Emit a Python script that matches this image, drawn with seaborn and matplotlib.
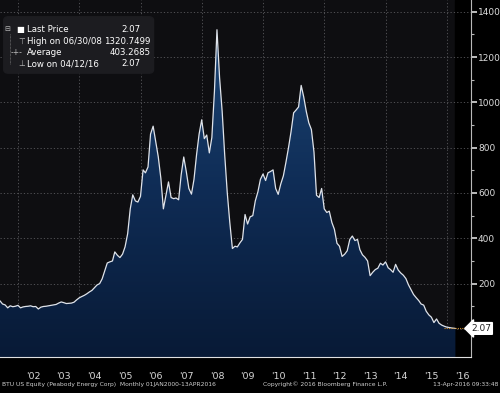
import numpy as np
import pandas as pd
import matplotlib
matplotlib.use('Agg')
import matplotlib.pyplot as plt
import matplotlib.dates as mdates
from matplotlib.patches import FancyBboxPatch
import seaborn as sns

################################################################################
# data: BTU monthly close, month-end points May 2001 .. Mar 2016, then 12-Apr-2016

price_2001 = [124, 110, 106, 93, 102, 98, 100, 104]
price_2002 = [93, 97, 99, 100, 102, 98, 99, 88, 96, 99, 100, 102]
price_2003 = [104, 106, 108, 114, 119, 116, 112, 113, 114, 118, 128, 137]
price_2004 = [143, 148, 155, 163, 170, 182, 194, 200, 221, 256, 291, 296]
price_2005 = [300, 340, 325, 315, 330, 362, 420, 530, 592, 565, 560, 585]
price_2006 = [702, 689, 715, 860, 895, 830, 760, 665, 530, 590, 649, 580]
price_2007 = [575, 578, 570, 680, 759, 695, 620, 595, 660, 770, 860, 923]
price_2008 = [840, 856, 777, 845, 1050, 1320.75, 1110, 960, 770, 600, 470, 355]
price_2009 = [365, 362, 380, 395, 505, 463, 495, 500, 565, 605, 660, 684]
price_2010 = [655, 689, 695, 702, 620, 594, 640, 676, 735, 800, 870, 954]
price_2011 = [967, 980, 1075, 1025, 960, 910, 880, 780, 590, 580, 620, 530]
price_2012 = [514, 520, 470, 440, 378, 365, 320, 330, 345, 395, 410, 390]
price_2013 = [395, 350, 327, 316, 300, 235, 250, 262, 268, 290, 282, 296]
price_2014 = [270, 262, 250, 285, 260, 247, 237, 222, 195, 173, 152, 138]
price_2015 = [125, 110, 105, 78, 62, 52, 28, 44, 25, 17, 12, 8]
price_2016 = [6, 4, 2.07]

first_month_end = '2001-05-31'
last_date = '2016-04-12'
last_price = 2.07

year_starts = list(range(2002, 2017))
year_labels = ["'02", "'03", "'04", "'05", "'06", "'07", "'08", "'09",
               "'10", "'11", "'12", "'13", "'14", "'15", "'16"]
grid_years = [2002, 2004, 2006, 2008, 2010, 2012, 2014, 2016]
y_major = [0, 200, 400, 600, 800, 1000, 1200, 1400]

legend_rows = [
    ('Last Price', '2.07'),
    ('High on 06/30/08', '1320.7499'),
    ('Average', '403.2685'),
    ('Low on 04/12/16', '2.07'),
]
footer_left = 'BTU US Equity (Peabody Energy Corp)  Monthly 01JAN2000-13APR2016'
footer_mid = 'Copyright\u00a9 2016 Bloomberg Finance L.P.'
footer_right = '13-Apr-2016 09:33:48'

################################################################################

price = (price_2001 + price_2002 + price_2003 + price_2004 + price_2005 + price_2006
         + price_2007 + price_2008 + price_2009 + price_2010 + price_2011 + price_2012
         + price_2013 + price_2014 + price_2015 + price_2016)
dates = list(pd.date_range(first_month_end, periods = len(price) - 1, freq = 'ME'))
dates.append(pd.Timestamp(last_date))
df = pd.DataFrame({'date': dates, 'price': price})

sns.set_style('dark')
plt.rcParams['font.family'] = ['DejaVu Sans']

fig = plt.figure(figsize = (5.0, 3.93), dpi = 100, facecolor = 'black')
ax = fig.add_axes([0.0, 0.0916, 0.942, 0.9084])
ax.set_facecolor('#0e0e11')

x0 = pd.Timestamp(first_month_end)
x1 = pd.Timestamp('2016-10-15')
ybot, ytop = -124, 1452

# black area beyond last observation
ax.axvspan(pd.Timestamp(last_date), x1, color = 'black', zorder = 0)

# grid
for v in y_major:
    ax.axhline(v, color = '#5a5a5e', lw = 0.6, ls = (0, (1.5, 2.5)), zorder = 1)
for yr in grid_years:
    ax.axvline(pd.Timestamp(f'{yr}-01-01'), color = '#5a5a5e', lw = 0.6, ls = (0, (1.5, 2.5)), zorder = 1)

# gradient area fill
xnum = mdates.date2num(df['date'])
poly = ax.fill_between(xnum, df['price'], ybot, color = 'none', lw = 0, zorder = 2)
grad = np.linspace(0, 1, 256).reshape(-1, 1)
cmap = matplotlib.colors.LinearSegmentedColormap.from_list('g', ['#081a36', '#0f2c55', '#1c4676'])
img = ax.imshow(grad, cmap = cmap, aspect = 'auto', origin = 'lower',
                extent = [xnum[0], xnum[-1], ybot, 1350], zorder = 2)
img.set_clip_path(poly.get_paths()[0], transform = ax.transData)

sns.lineplot(data = df, x = 'date', y = 'price', color = '#dfe3ea', lw = 0.9, ax = ax, zorder = 3)

# last price marker line
ax.plot([pd.Timestamp('2015-11-30'), x1], [last_price, last_price],
        color = '#c98a2e', lw = 0.8, ls = (0, (1, 1)), zorder = 3)

ax.set_xlim(x0, x1)
ax.set_ylim(ybot, ytop)

# axes styling
for s in ['left', 'top']:
    ax.spines[s].set_visible(False)
ax.spines['right'].set_color('#b8b8b8')
ax.spines['bottom'].set_color('#e0e0e0')
ax.spines['right'].set_linewidth(0.8)
ax.spines['bottom'].set_linewidth(0.8)

ax.yaxis.tick_right()
ax.set_yticks(y_major)
ax.set_yticklabels([''] + [str(v) for v in y_major[1:]])
ax.set_yticks(np.arange(100, 1500, 200), minor = True)
ax.tick_params(axis = 'y', which = 'major', colors = '#dcdcdc', labelsize = 6.5,
               length = 4, width = 1.2, pad = 1, direction = 'out')
ax.tick_params(axis = 'y', which = 'minor', colors = '#b8b8b8', length = 2.5, width = 0.8)

ax.set_xticks([pd.Timestamp(f'{y}-01-01') for y in year_starts])
ax.set_xticklabels([])
ax.set_xticks([pd.Timestamp(f'{y}-07-01') for y in year_starts], minor = True)
ax.set_xticklabels(year_labels, minor = True)
ax.tick_params(axis = 'x', which = 'major', colors = '#8a8a8a', length = 15, width = 0.6)
ax.tick_params(axis = 'x', which = 'minor', colors = '#d8d8d8', length = 0, labelsize = 6.8, pad = 11)
ax.set_xlabel('')
ax.set_ylabel('')
ax.grid(False)

# last price tag
ax.text(1.0, last_price, '2.07', transform = ax.get_yaxis_transform(), fontsize = 6.5,
        color = '#222222', va = 'center', ha = 'left',
        bbox = dict(boxstyle = 'larrow,pad=0.15', fc = 'white', ec = 'white'), clip_on = False)

# legend box
box = FancyBboxPatch((0.008, 0.795), 0.318, 0.158, transform = ax.transAxes,
                     boxstyle = 'round,pad=0,rounding_size=0.01', fc = '#1c1c20',
                     ec = '#1c1c20', zorder = 5)
ax.add_patch(box)
row_y = [0.918, 0.884, 0.853, 0.822]
icons = ['', '\u22a4', '-+-', '\u22a5']
icon_x = [0.0, 0.038, 0.022, 0.038]
val_x = [0.298, 0.319, 0.319, 0.298]
for (lab, val), yy, ic, ix, vx in zip(legend_rows, row_y, icons, icon_x, val_x):
    ax.text(ix, yy, ic, transform = ax.transAxes, fontsize = 5.5, color = '#bbbbbb',
            va = 'center', zorder = 6)
    ax.text(0.057, yy, lab, transform = ax.transAxes, fontsize = 6.2, color = 'white',
            va = 'center', zorder = 6)
    ax.text(vx, yy, val, transform = ax.transAxes, fontsize = 6.2, color = 'white',
            va = 'center', ha = 'right', zorder = 6)
ax.text(0.010, row_y[0], '\u229f', transform = ax.transAxes, fontsize = 5, color = '#bbbbbb',
        va = 'center', zorder = 6)
ax.text(0.034, row_y[0], '\u25a0', transform = ax.transAxes, fontsize = 6, color = 'white',
        va = 'center', zorder = 6)
ax.plot([0.021, 0.021], [row_y[0] - 0.012, row_y[3]], transform = ax.transAxes,
        color = '#888888', lw = 0.5, ls = (0, (1, 1)), zorder = 6)

# footer
fig.text(0.004, 0.016, footer_left, fontsize = 4.3, color = '#d0d0d0', va = 'bottom')
fig.text(0.526, 0.016, footer_mid, fontsize = 4.3, color = '#d0d0d0', va = 'bottom')
fig.text(0.997, 0.016, footer_right, fontsize = 4.3, color = '#d0d0d0', va = 'bottom', ha = 'right')

fig.savefig('out.png', dpi = 100, facecolor = 'black')
